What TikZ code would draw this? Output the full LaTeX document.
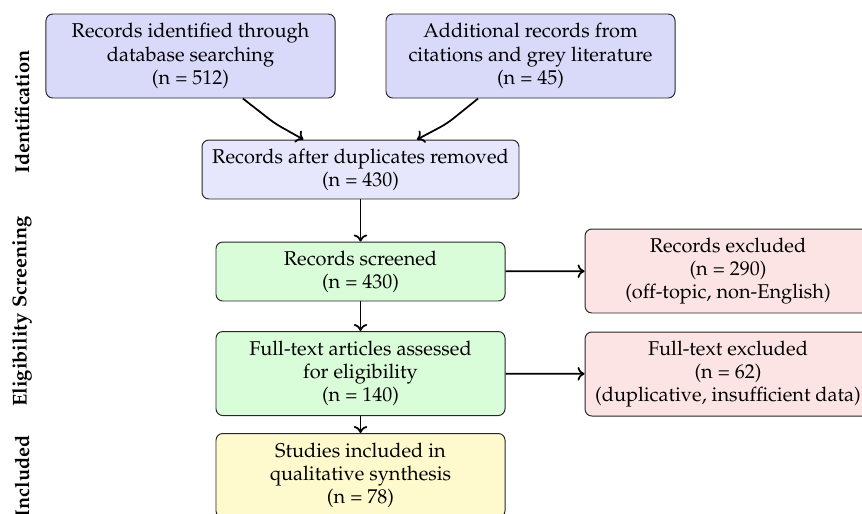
\documentclass[tikz,border=0pt]{standalone}
\usepackage[T1]{fontenc}
\usepackage{mathpazo}
\usetikzlibrary{arrows.meta}
\definecolor{idfill}{RGB}{217,217,250}
\definecolor{dupfill}{RGB}{230,230,252}
\definecolor{scrfill}{RGB}{217,252,217}
\definecolor{exfill}{RGB}{252,228,228}
\definecolor{incfill}{RGB}{255,250,205}
\tikzset{
  flowbox/.style={draw=black!85, line width=0.5pt, rounded corners=3.5pt, align=center, inner sep=2pt, font=\fontsize{10.3}{12}\selectfont},
  wide/.style={flowbox, minimum width=149pt},
  tall/.style={minimum height=43.3pt},
  short/.style={minimum height=30.4pt},
  arr/.style={-{To[length=3.6pt,width=7pt]}, line width=0.9pt, black},
  phase/.style={rotate=90, font=\fontsize{10.3}{12}\selectfont\bfseries}
}
\begin{document}
\begin{tikzpicture}[x=0.5155pt, y=-0.5155pt]
\useasboundingbox (0,0) rectangle (862,513);
\clip (0,0) rectangle (862,513);
\node[wide, tall, fill=idfill] (id1) at (190.5,56) {Records identified through\\database searching\\(n = 512)};
\node[wide, tall, fill=idfill] (id2) at (530.5,56) {Additional records from\\citations and grey literature\\(n = 45)};
\node[flowbox, minimum width=163.4pt, short, fill=dupfill] (dup) at (360.5,169.5) {Records after duplicates removed\\(n = 430)};
\node[wide, short, fill=scrfill] (scr) at (360.5,271.5) {Records screened\\(n = 430)};
\node[wide, tall, fill=scrfill] (full) at (360.5,373.5) {Full-text articles assessed\\for eligibility\\(n = 140)};
\node[wide, tall, fill=incfill] (inc) at (360.5,475.5) {Studies included in\\qualitative synthesis\\(n = 78)};
\node[flowbox, minimum width=147.4pt, tall, fill=exfill] (ex1) at (728,271) {Records excluded\\(n = 290)\\(off-topic, non-English)};
\node[flowbox, minimum width=147.4pt, tall, fill=exfill] (ex2) at (728,374) {Full-text excluded\\(n = 62)\\(duplicative, insufficient data)};
\node[phase] (p1) at (22,112) {Identification};
\node[phase] (p2) at (22,262) {Screening};
\node[phase] (p3) at (22,360) {Eligibility};
\node[phase] (p4) at (22,476) {Included};
\draw[arr, rounded corners=4pt] ([xshift=27pt]id1.south) -- ++(16.5pt,-12.9pt) -- ([xshift=-29.4pt]dup.north);
\draw[arr, rounded corners=4pt] ([xshift=-27pt]id2.south) -- ++(-16pt,-12.9pt) -- ([xshift=29.1pt]dup.north);
\draw[arr] (dup) -- (scr);
\draw[arr] (scr) -- (full);
\draw[arr] (full) -- (inc);
\draw[arr] (scr) -- (ex1);
\draw[arr] (full) -- (ex2);
\end{tikzpicture}
\end{document}
